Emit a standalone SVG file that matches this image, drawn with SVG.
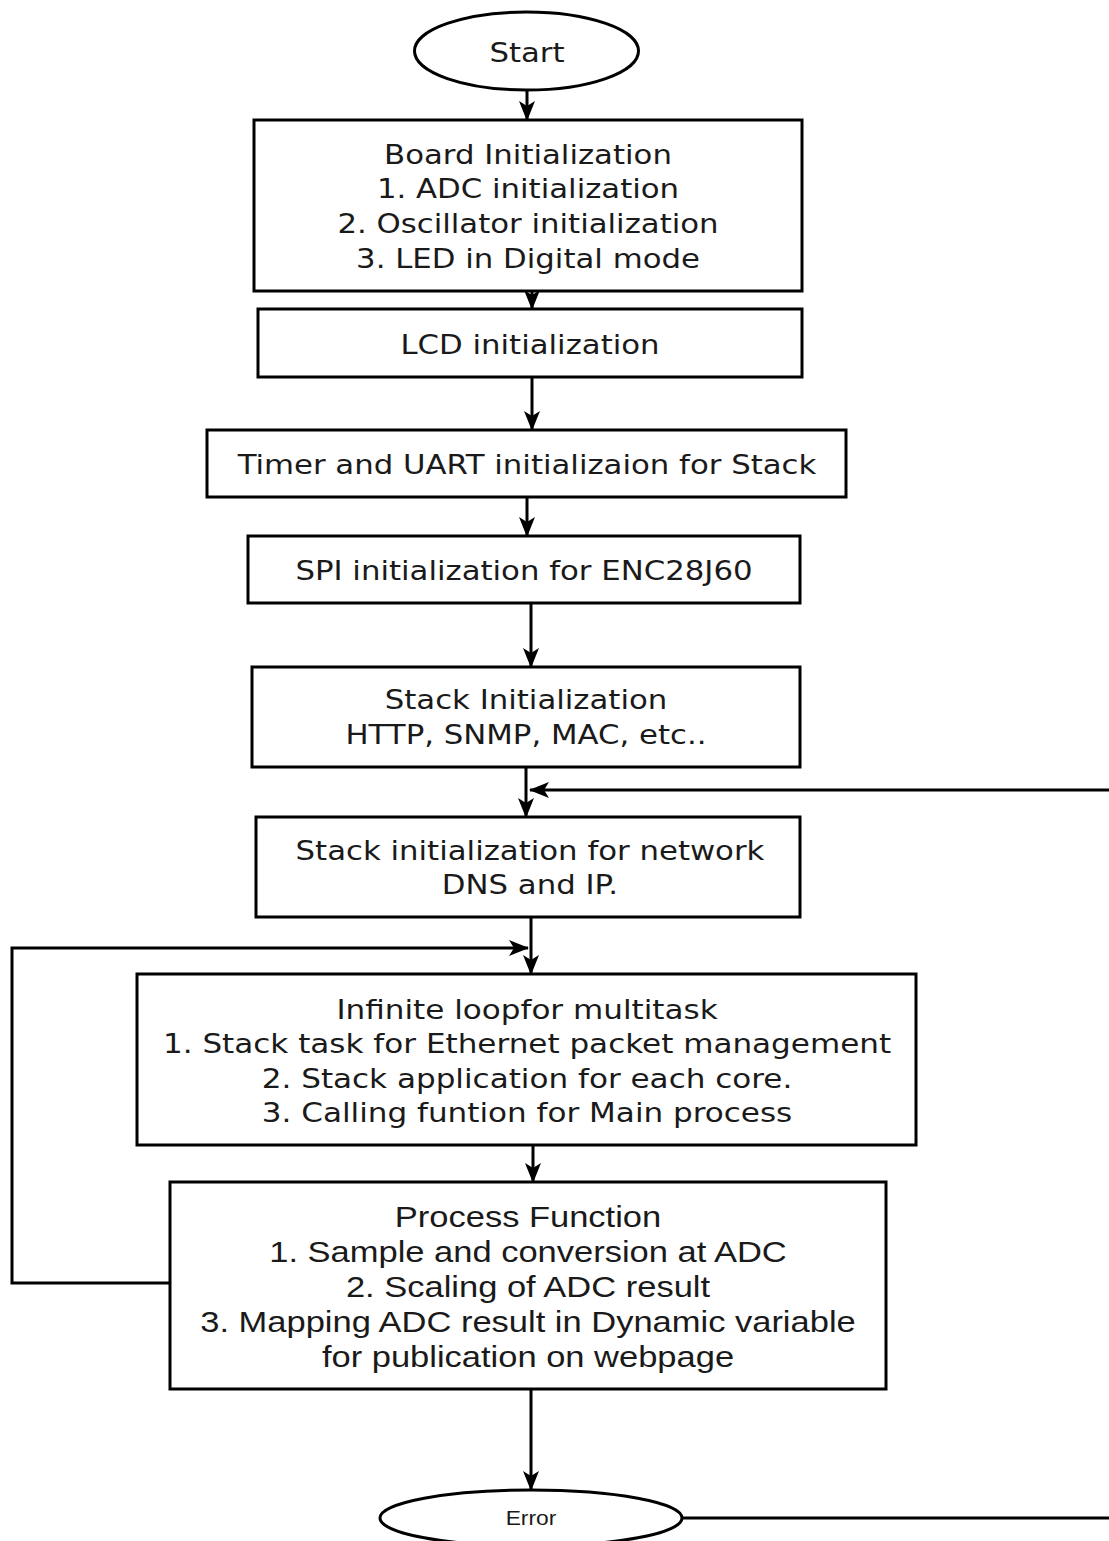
<svg xmlns="http://www.w3.org/2000/svg" width="1109" height="1541" viewBox="0 0 1109 1541">
  <defs>
    <style>
      .shape { fill: #ffffff; stroke: #000000; stroke-width: 3; }
      .wire { fill: none; stroke: #000000; stroke-width: 3; }
      .lbl { font-family: "DejaVu Sans", Verdana, sans-serif; font-size: 27px; fill: #1a1a1a; text-anchor: middle; }
      .lbl2 { font-family: "Liberation Sans", Arial, sans-serif; font-size: 30px; fill: #1a1a1a; text-anchor: middle; }
      .small { font-family: "Liberation Sans", Arial, sans-serif; font-size: 19.5px; fill: #1a1a1a; text-anchor: middle; }
    </style>
    <marker id="arrow" viewBox="0 0 20 16" refX="19" refY="8" markerWidth="20" markerHeight="16" markerUnits="userSpaceOnUse" orient="auto">
      <path d="M0,0 L20,8 L0,16 L5,8 Z" fill="#000000"/>
    </marker>
  </defs>
  <rect x="0" y="0" width="1109" height="1541" fill="#ffffff"/>

  <!-- connectors -->
  <g id="connectors">
    <line class="wire" x1="527" y1="90" x2="527" y2="120" marker-end="url(#arrow)"/>
    <line class="wire" x1="532" y1="291" x2="532" y2="309" marker-end="url(#arrow)"/>
    <line class="wire" x1="532" y1="377" x2="532" y2="430" marker-end="url(#arrow)"/>
    <line class="wire" x1="527" y1="497" x2="527" y2="536" marker-end="url(#arrow)"/>
    <line class="wire" x1="531" y1="603" x2="531" y2="667" marker-end="url(#arrow)"/>
    <line class="wire" x1="526" y1="767" x2="526" y2="817" marker-end="url(#arrow)"/>
    <line class="wire" x1="531" y1="917" x2="531" y2="974" marker-end="url(#arrow)"/>
    <line class="wire" x1="533" y1="1145" x2="533" y2="1182" marker-end="url(#arrow)"/>
    <line class="wire" x1="531" y1="1389" x2="531" y2="1490" marker-end="url(#arrow)"/>
    <!-- error path back to network setup -->
    <line class="wire" x1="682" y1="1518" x2="1109" y2="1518"/>
    <line class="wire" x1="1109" y1="790" x2="530" y2="790" marker-end="url(#arrow)"/>
    <!-- process loop back to multitask -->
    <polyline class="wire" points="170,1283 12,1283 12,948 528,948" marker-end="url(#arrow)"/>
  </g>

  <g id="start">
    <ellipse class="shape" cx="526.5" cy="51" rx="112" ry="39"/>
    <text class="lbl" transform="translate(527,0) scale(1.14,1)" x="0" y="62">Start</text>
  </g>

  <g id="board-init">
    <rect class="shape" x="254" y="120" width="548" height="171"/>
    <g transform="translate(528,0) scale(1.14,1)">
      <text class="lbl" x="0" y="164">Board Initialization</text>
      <text class="lbl" x="0" y="198">1. ADC initialization</text>
      <text class="lbl" x="0" y="233">2. Oscillator initialization</text>
      <text class="lbl" x="0" y="268">3. LED in Digital mode</text>
    </g>
  </g>

  <g id="lcd-init">
    <rect class="shape" x="258" y="309" width="544" height="68"/>
    <text class="lbl" transform="translate(530,0) scale(1.14,1)" x="0" y="354">LCD initialization</text>
  </g>

  <g id="timer-uart-init">
    <rect class="shape" x="207" y="430" width="639" height="67"/>
    <text class="lbl" transform="translate(527,0) scale(1.14,1)" x="0" y="474">Timer and UART initializaion for Stack</text>
  </g>

  <g id="spi-init">
    <rect class="shape" x="248" y="536" width="552" height="67"/>
    <text class="lbl" transform="translate(524,0) scale(1.14,1)" x="0" y="580">SPI initialization for ENC28J60</text>
  </g>

  <g id="stack-init">
    <rect class="shape" x="252" y="667" width="548" height="100"/>
    <g transform="translate(526,0) scale(1.14,1)">
      <text class="lbl" x="0" y="709">Stack Initialization</text>
      <text class="lbl" x="0" y="744">HTTP, SNMP, MAC, etc..</text>
    </g>
  </g>

  <g id="network-init">
    <rect class="shape" x="256" y="817" width="544" height="100"/>
    <g transform="translate(530,0) scale(1.14,1)">
      <text class="lbl" x="0" y="860">Stack initialization for network</text>
      <text class="lbl" x="0" y="894">DNS and IP.</text>
    </g>
  </g>

  <g id="main-loop">
    <rect class="shape" x="137" y="974" width="779" height="171"/>
    <g transform="translate(527,0) scale(1.15,1)">
      <text class="lbl" x="0" y="1019">Infinite loopfor multitask</text>
      <text class="lbl" x="0" y="1053">1. Stack task for Ethernet packet management</text>
      <text class="lbl" x="0" y="1088">2. Stack application for each core.</text>
      <text class="lbl" x="0" y="1122">3. Calling funtion for Main process</text>
    </g>
  </g>

  <g id="process-function">
    <rect class="shape" x="170" y="1182" width="716" height="207"/>
    <g transform="translate(528,0) scale(1.15,1)">
      <text class="lbl2" x="0" y="1227">Process Function</text>
      <text class="lbl2" x="0" y="1262">1. Sample and conversion at ADC</text>
      <text class="lbl2" x="0" y="1297">2. Scaling of ADC result</text>
      <text class="lbl2" x="0" y="1332">3. Mapping ADC result in Dynamic variable</text>
      <text class="lbl2" x="0" y="1367">for publication on webpage</text>
    </g>
  </g>

  <g id="error">
    <ellipse class="shape" cx="531" cy="1518" rx="151" ry="28"/>
    <text class="small" transform="translate(531,0) scale(1.17,1)" x="0" y="1525">Error</text>
  </g>
</svg>
